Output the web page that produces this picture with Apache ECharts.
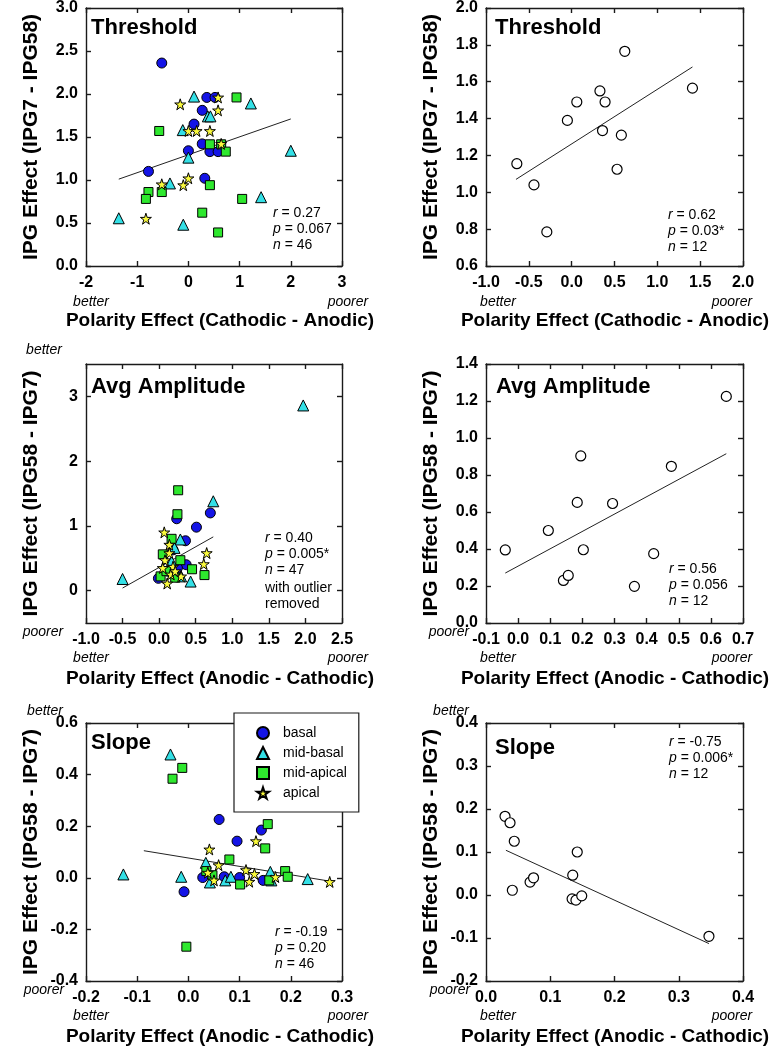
<!DOCTYPE html>
<html>
<head>
<meta charset="utf-8">
<script src="https://cdn.jsdelivr.net/npm/echarts@6/dist/echarts.min.js"></script>
<style>
html,body{margin:0;padding:0;background:#fff;}
#chart{width:777px;height:1050px;}
</style>
</head>
<body>
<div id="chart"></div>
<script>
// ---------------- DATA ----------------
const groupNames = ['basal', 'mid-basal', 'mid-apical', 'apical'];

// Panel 1: Threshold (all electrodes)
const p1Basal = [[-0.52,2.36],[0.36,1.96],[0.52,1.96],[0.27,1.81],[0.11,1.65],[0.27,1.42],[0.0,1.34],[0.42,1.33],[0.58,1.33],[-0.78,1.10],[0.32,1.02]];
const p1MidBasal = [[0.11,1.97],[1.22,1.89],[0.38,1.74],[0.43,1.74],[-0.11,1.58],[2.0,1.34],[0.0,1.26],[-0.36,0.96],[1.42,0.80],[-1.36,0.555],[-0.10,0.48]];
const p1MidApical = [[0.94,1.96],[-0.57,1.57],[0.42,1.415],[0.64,1.415],[0.73,1.33],[0.42,0.94],[-0.78,0.86],[-0.52,0.86],[-0.83,0.78],[1.05,0.78],[0.27,0.62],[0.58,0.39]];
const p1Apical = [[0.58,1.96],[-0.16,1.88],[0.58,1.81],[0.0,1.57],[0.16,1.57],[0.42,1.57],[0.64,1.42],[0.0,1.02],[-0.52,0.95],[-0.10,0.94],[-0.83,0.55]];
const p1Fit = [[-1.36,1.01],[2.0,1.71]];
const p1Stats = ['0.27', '0.067', '46'];

// Panel 2: Threshold (subject means)
const p2Points = [[-0.64,1.155],[-0.44,1.04],[-0.29,0.785],[-0.05,1.39],[0.06,1.49],[0.33,1.55],[0.39,1.49],[0.36,1.335],[0.62,1.765],[0.58,1.31],[0.53,1.125],[1.41,1.565]];
const p2Fit = [[-0.65,1.07],[1.41,1.68]];
const p2Stats = ['0.62', '0.03*', '12'];

// Panel 3: Avg Amplitude (all electrodes)
const p3Basal = [[0.70,1.20],[0.51,0.98],[0.24,1.11],[0.36,0.77],[0.19,0.63],[0.37,0.40],[-0.01,0.19],[0.12,0.30],[0.25,0.35]];
const p3MidBasal = [[1.97,2.86],[-0.50,0.18],[0.74,1.38],[0.29,0.79],[0.21,0.66],[0.43,0.14],[0.17,0.45],[0.30,0.22]];
const p3MidApical = [[0.26,1.55],[0.25,1.18],[0.17,0.80],[0.05,0.56],[0.29,0.47],[0.45,0.33],[0.62,0.24],[0.02,0.22],[0.22,0.20],[0.10,0.30]];
const p3Apical = [[0.07,0.90],[0.65,0.58],[0.61,0.41],[0.14,0.71],[0.14,0.58],[0.08,0.47],[0.19,0.37],[0.16,0.25],[0.30,0.22],[0.11,0.11],[0.22,0.30],[0.05,0.35]];
const p3Fit = [[-0.5,0.04],[0.74,0.83]];
const p3Stats = ['0.40', '0.005*', '47'];

// Panel 4: Avg Amplitude (subject means)
const p4Points = [[-0.04,0.395],[0.094,0.50],[0.141,0.23],[0.156,0.257],[0.184,0.652],[0.195,0.903],[0.203,0.396],[0.294,0.646],[0.362,0.198],[0.422,0.375],[0.477,0.847],[0.648,1.225]];
const p4Fit = [[-0.04,0.27],[0.648,0.915]];
const p4Stats = ['0.56', '0.056', '12'];

// Panel 5: Slope (all electrodes)
const p5Basal = [[0.06,0.226],[0.095,0.142],[0.1425,0.185],[0.028,0.001],[0.07,0.004],[0.10,0.001],[0.146,-0.01],[-0.0085,-0.054]];
const p5MidBasal = [[-0.035,0.478],[-0.127,0.013],[-0.014,0.004],[0.034,0.058],[0.042,-0.018],[0.072,-0.01],[0.083,0.004],[0.16,0.023],[0.162,-0.01],[0.233,-0.005]];
const p5MidApical = [[-0.012,0.426],[-0.031,0.384],[0.155,0.208],[0.15,0.114],[0.08,0.071],[0.035,0.026],[0.047,0.01],[0.101,-0.026],[0.189,0.026],[0.194,0.004],[0.158,-0.01],[-0.004,-0.267]];
const p5Apical = [[0.041,0.11],[0.132,0.142],[0.059,0.049],[0.1125,0.03],[0.129,0.015],[0.038,0.02],[0.05,-0.01],[0.119,-0.015],[0.17,0.003],[0.276,-0.016]];
const p5Fit = [[-0.087,0.105],[0.276,-0.013]];
const p5Stats = ['-0.19', '0.20', '46'];

// Panel 6: Slope (subject means)
const p6Points = [[0.0296,0.183],[0.0374,0.168],[0.044,0.125],[0.041,0.011],[0.0686,0.03],[0.074,0.04],[0.135,0.046],[0.142,0.1],[0.134,-0.009],[0.140,-0.012],[0.149,-0.002],[0.347,-0.096]];
const p6Fit = [[0.031,0.104],[0.347,-0.113]];
const p6Stats = ['-0.75', '0.006*', '12'];

// Tick values
const p1XTicks = [-2,-1,0,1,2,3];
const p1YTicks = [0,0.5,1,1.5,2,2.5,3];
const p2XTicks = [-1,-0.5,0,0.5,1,1.5,2];
const p2YTicks = [0.6,0.8,1.0,1.2,1.4,1.6,1.8,2.0];
const p3XTicks = [-1,-0.5,0,0.5,1,1.5,2,2.5];
const p3YTicks = [0,1,2,3];
const p4XTicks = [-0.1,0,0.1,0.2,0.3,0.4,0.5,0.6,0.7];
const p4YTicks = [0,0.2,0.4,0.6,0.8,1.0,1.2,1.4];
const p5XTicks = [-0.2,-0.1,0,0.1,0.2,0.3];
const p5YTicks = [-0.4,-0.2,0,0.2,0.4,0.6];
const p6XTicks = [0,0.1,0.2,0.3,0.4];
const p6YTicks = [-0.2,-0.1,0,0.1,0.2,0.3,0.4];

const panelTitles = ['Threshold','Threshold','Avg Amplitude','Avg Amplitude','Slope','Slope'];
const yTitles = ['IPG Effect (IPG7 - IPG58)','IPG Effect (IPG58 - IPG7)','IPG Effect (IPG58 - IPG7)'];
const xTitles = ['Polarity Effect (Cathodic - Anodic)','Polarity Effect (Anodic - Cathodic)','Polarity Effect (Anodic - Cathodic)'];

// ---------------- LAYOUT ----------------
const FONT = '"Liberation Sans", Arial, Helvetica, sans-serif';
const COLS = [{left:86,width:256},{left:486,width:257}];
const ROWS = [{top:8,height:258},{top:364,height:259},{top:723,height:258}];
const STAR = 'path://M50,0 L61.2,34.5 L97.6,34.5 L68.2,55.9 L79.4,90.5 L50,69.1 L20.6,90.5 L31.8,55.9 L2.4,34.5 L38.8,34.5 Z';
const colors = {basal:'#1414e6', midBasal:'#33e0e6', midApical:'#2ee82e', apical:'#fafa3c'};

const panels = [
  {x:p1XTicks, y:p1YTicks, xd:0, yd:1},
  {x:p2XTicks, y:p2YTicks, xd:1, yd:1},
  {x:p3XTicks, y:p3YTicks, xd:1, yd:0, yMin:-0.5, yMax:3.5},
  {x:p4XTicks, y:p4YTicks, xd:1, yd:1},
  {x:p5XTicks, y:p5YTicks, xd:1, yd:1},
  {x:p6XTicks, y:p6YTicks, xd:1, yd:1}
];

const grid = [], xAxis = [], yAxis = [];
const lineStyleFrame = {color:'#1a1a1a', width:1.4};
panels.forEach((p, i) => {
  const c = COLS[i % 2], r = ROWS[Math.floor(i / 2)];
  grid.push({left:c.left, top:r.top, width:c.width, height:r.height, containLabel:false});
  const xmin = p.x[0], xmax = p.x[p.x.length-1];
  const ymin = p.yMin !== undefined ? p.yMin : p.y[0];
  const ymax = p.yMax !== undefined ? p.yMax : p.y[p.y.length-1];
  const common = {type:'value', gridIndex:i, splitLine:{show:false},
    axisLine:{show:true, onZero:false, lineStyle:lineStyleFrame}};
  xAxis.push(Object.assign({}, common, {position:'bottom', min:xmin, max:xmax,
    axisTick:{show:true, inside:true, length:5, customValues:p.x, lineStyle:lineStyleFrame},
    axisLabel:{show:true, customValues:p.x, margin:9, color:'#000', fontFamily:FONT, fontWeight:'bold', fontSize:16,
      formatter:(v)=>Number(v).toFixed(p.xd)}}));
  xAxis.push(Object.assign({}, common, {position:'top', min:xmin, max:xmax,
    axisTick:{show:true, inside:true, length:5, customValues:p.x, lineStyle:lineStyleFrame},
    axisLabel:{show:false}}));
  yAxis.push(Object.assign({}, common, {position:'left', min:ymin, max:ymax,
    axisTick:{show:true, inside:true, length:5, customValues:p.y, lineStyle:lineStyleFrame},
    axisLabel:{show:true, customValues:p.y, margin:8, color:'#000', fontFamily:FONT, fontWeight:'bold', fontSize:16,
      formatter:(v)=>Number(v).toFixed(p.yd)}}));
  yAxis.push(Object.assign({}, common, {position:'right', min:ymin, max:ymax,
    axisTick:{show:true, inside:true, length:5, customValues:p.y, lineStyle:lineStyleFrame},
    axisLabel:{show:false}}));
});

function groupSeries(panel, data, kind) {
  const st = {
    basal:{name:'basal', symbol:'circle', size:10, color:colors.basal},
    midBasal:{name:'mid-basal', symbol:'triangle', size:11, color:colors.midBasal},
    midApical:{name:'mid-apical', symbol:'rect', size:9, color:colors.midApical},
    apical:{name:'apical', symbol:STAR, size:11, color:colors.apical}
  }[kind];
  return {type:'scatter', name:st.name, xAxisIndex:panel*2, yAxisIndex:panel*2, data:data,
    symbol:st.symbol, symbolSize:st.size, silent:true,
    itemStyle:{color:st.color, borderColor:'#000', borderWidth:1, opacity:1}, z:3};
}
function openSeries(panel, data) {
  return {type:'scatter', name:'mean'+panel, xAxisIndex:panel*2, yAxisIndex:panel*2, data:data,
    symbol:'circle', symbolSize:10, silent:true,
    itemStyle:{color:'#fff', borderColor:'#000', borderWidth:1.2, opacity:1}, z:3};
}
function fitSeries(panel, data) {
  return {type:'line', name:'fit'+panel, xAxisIndex:panel*2, yAxisIndex:panel*2, data:data,
    symbol:'none', silent:true, lineStyle:{color:'#222', width:1}, z:2};
}

const series = [
  fitSeries(0, p1Fit),
  groupSeries(0, p1Basal, 'basal'), groupSeries(0, p1MidBasal, 'midBasal'),
  groupSeries(0, p1MidApical, 'midApical'), groupSeries(0, p1Apical, 'apical'),
  fitSeries(1, p2Fit), openSeries(1, p2Points),
  fitSeries(2, p3Fit),
  groupSeries(2, p3Basal, 'basal'), groupSeries(2, p3MidBasal, 'midBasal'),
  groupSeries(2, p3MidApical, 'midApical'), groupSeries(2, p3Apical, 'apical'),
  fitSeries(3, p4Fit), openSeries(3, p4Points),
  fitSeries(4, p5Fit),
  groupSeries(4, p5Basal, 'basal'), groupSeries(4, p5MidBasal, 'midBasal'),
  groupSeries(4, p5MidApical, 'midApical'), groupSeries(4, p5Apical, 'apical'),
  fitSeries(5, p6Fit), openSeries(5, p6Points)
];

// ---------------- TEXT ----------------
const graphic = [];
function txt(x, y, text, opts) {
  graphic.push(Object.assign({type:'text', x:x, y:y, silent:true, z:10,
    style:Object.assign({text:text, fill:'#000', fontFamily:FONT, fontSize:14, align:'left', verticalAlign:'middle'}, opts.style || {})},
    opts.rotation !== undefined ? {rotation:opts.rotation} : {}));
}
// panel titles
const titlePos = [[91,28],[495,28],[91,387],[496,387],[91,743],[495,748]];
panelTitles.forEach((t, i) => txt(titlePos[i][0], titlePos[i][1], t, {style:{fontSize:22, fontWeight:'bold'}}));
// y titles
[0,1,2].forEach(r => {
  const cy = ROWS[r].top + ROWS[r].height / 2;
  txt(31, cy, yTitles[r], {rotation:Math.PI/2, style:{fontSize:21, fontWeight:'bold', align:'center'}});
  txt(431, cy, yTitles[r], {rotation:Math.PI/2, style:{fontSize:21, fontWeight:'bold', align:'center'}});
});
// x titles
const xTitleY = [321, 679, 1037];
[0,1,2].forEach(r => {
  txt(220, xTitleY[r], xTitles[r], {style:{fontSize:19, fontWeight:'bold', align:'center'}});
  txt(615, xTitleY[r], xTitles[r], {style:{fontSize:19, fontWeight:'bold', align:'center'}});
});
// better / poorer on x axes
const bpY = [302, 658, 1016];
[0,1,2].forEach(r => {
  txt(91, bpY[r], 'better', {style:{fontStyle:'italic', align:'center'}});
  txt(348, bpY[r], 'poorer', {style:{fontStyle:'italic', align:'center'}});
  txt(498, bpY[r], 'better', {style:{fontStyle:'italic', align:'center'}});
  txt(732, bpY[r], 'poorer', {style:{fontStyle:'italic', align:'center'}});
});
// better / poorer on y axes (rows 2 and 3)
txt(44, 350, 'better', {style:{fontStyle:'italic', align:'center'}});
txt(43, 632, 'poorer', {style:{fontStyle:'italic', align:'center'}});
txt(449, 632, 'poorer', {style:{fontStyle:'italic', align:'center'}});
txt(45, 711, 'better', {style:{fontStyle:'italic', align:'center'}});
txt(44, 990, 'poorer', {style:{fontStyle:'italic', align:'center'}});
txt(451, 711, 'better', {style:{fontStyle:'italic', align:'center'}});
txt(450, 990, 'poorer', {style:{fontStyle:'italic', align:'center'}});
// stats
const statsPos = [[273,213],[668,215],[265,538],[669,569],[275,932],[669,742]];
const allStats = [p1Stats,p2Stats,p3Stats,p4Stats,p5Stats,p6Stats];
allStats.forEach((s, i) => {
  const [x, y] = statsPos[i];
  const rich = {i:{fontStyle:'italic', fontFamily:FONT, fontSize:14}, n:{fontFamily:FONT, fontSize:14}};
  txt(x, y, '{i|r}{n| = ' + s[0] + '}', {style:{rich:rich}});
  txt(x, y + 16, '{i|p}{n| = ' + s[1] + '}', {style:{rich:rich}});
  txt(x, y + 32, '{i|n}{n| = ' + s[2] + '}', {style:{rich:rich}});
});
txt(265, 588, 'with outlier', {});
txt(265, 604, 'removed', {});

const option = {
  animation:false,
  backgroundColor:'#fff',
  grid:grid, xAxis:xAxis, yAxis:yAxis, series:series, graphic:graphic,
  legend:{
    show:true, orient:'vertical', left:234, top:713, z:20,
    backgroundColor:'#fff', borderColor:'#1a1a1a', borderWidth:1.2,
    padding:[13, 12, 12, 22], itemGap:6, itemWidth:12, itemHeight:12,
    selectedMode:false,
    textStyle:{fontFamily:FONT, fontSize:14, color:'#000', padding:[0,0,0,9]},
    data:[
      {name:'basal', icon:'circle'},
      {name:'mid-basal', icon:'triangle'},
      {name:'mid-apical', icon:'rect'},
      {name:'apical', icon:STAR}
    ]
  }
};
const chart = echarts.init(document.getElementById('chart'), null, {renderer:'canvas'});
chart.setOption(option);
</script>
</body>
</html>
